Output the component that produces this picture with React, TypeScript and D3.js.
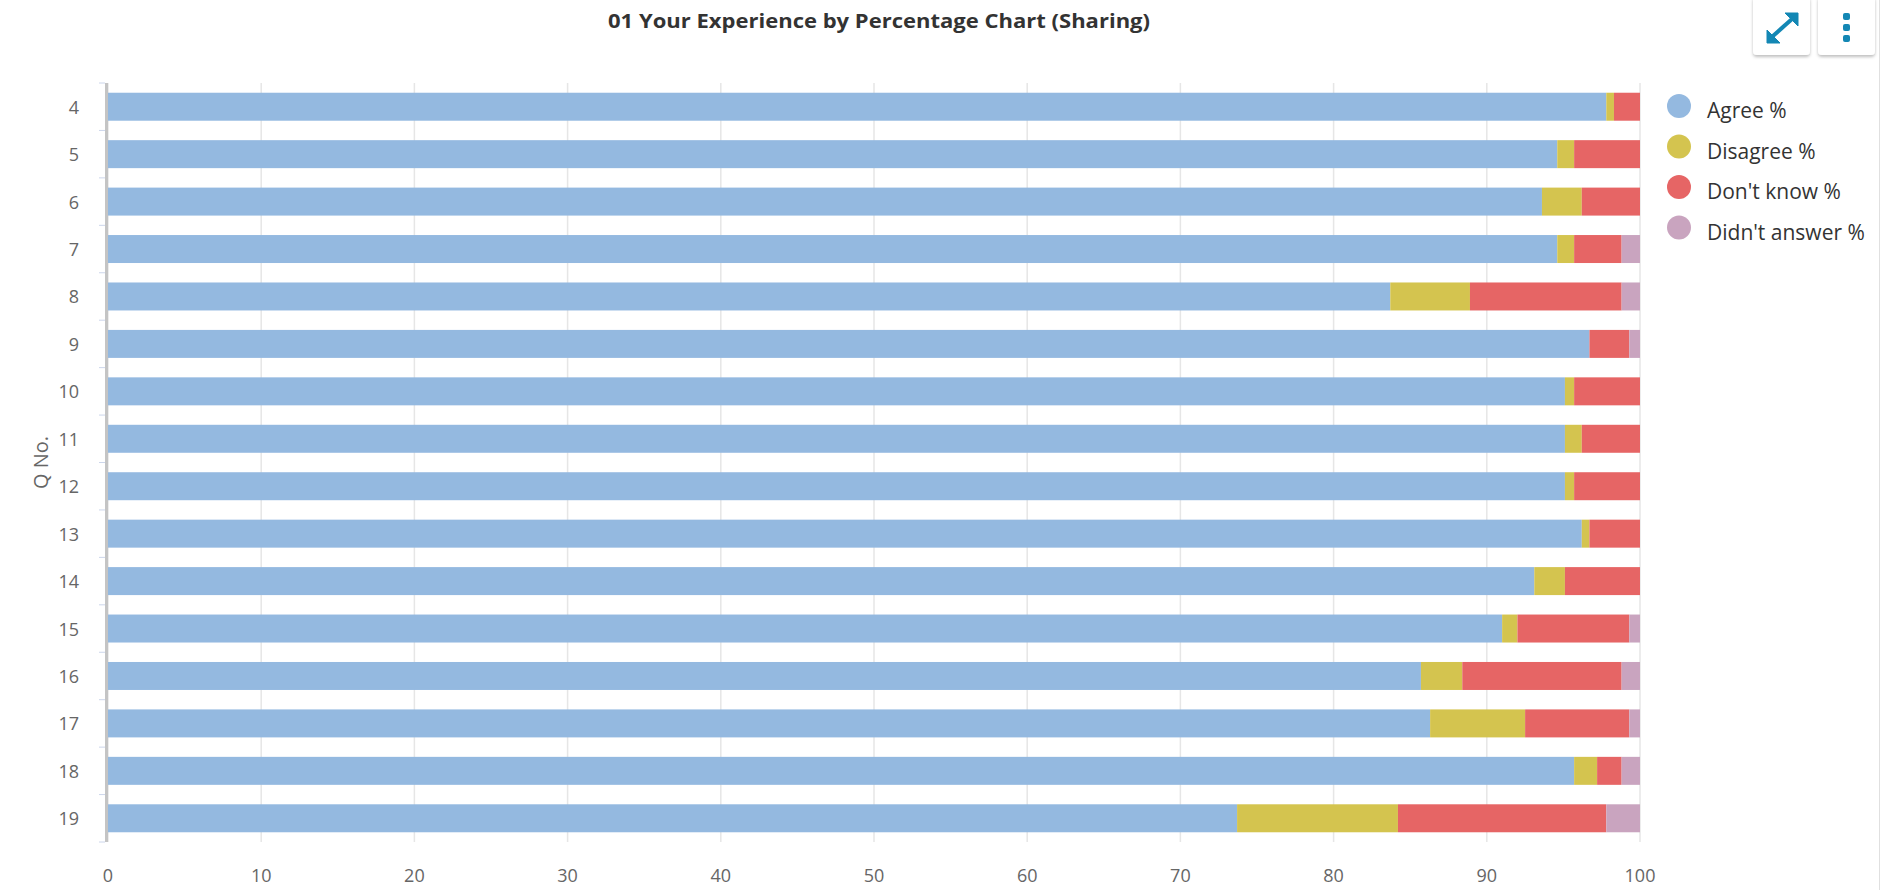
import { useMemo } from "react";
import * as d3 from "d3";

const QUESTIONS = ["4", "5", "6", "7", "8", "9", "10", "11", "12", "13", "14", "15", "16", "17", "18", "19"];
const SERIES = ["Agree %", "Disagree %", "Don't know %", "Didn't answer %"];
const COLORS = ["#94b9e0", "#d4c44f", "#e66565", "#c9a4bf"];

const AGREE = [97.8, 94.6, 93.6, 94.6, 83.7, 96.7, 95.1, 95.1, 95.1, 96.2, 93.1, 91.0, 85.7, 86.3, 95.7, 73.7];
const DISAGREE = [0.5, 1.1, 2.6, 1.1, 5.2, 0, 0.6, 1.1, 0.6, 0.5, 2.0, 1.0, 2.7, 6.2, 1.5, 10.5];
const DONT_KNOW = [1.7, 4.3, 3.8, 3.1, 9.9, 2.6, 4.3, 3.8, 4.3, 3.3, 4.9, 7.3, 10.4, 6.8, 1.6, 13.6];
const NO_ANSWER = [0, 0, 0, 1.2, 1.2, 0.7, 0, 0, 0, 0, 0, 0.7, 1.2, 0.7, 1.2, 2.2];

const X_TICKS = [0, 10, 20, 30, 40, 50, 60, 70, 80, 90, 100];

const W = 1881;
const H = 890;
const M = { left: 108, right: 1640, top: 83, bottom: 842 };
const FONT = "'Open Sans', 'Noto Sans', sans-serif";

export default function App() {
  const rows = useMemo(
    () =>
      QUESTIONS.map((q, i) => ({
        q,
        "Agree %": AGREE[i],
        "Disagree %": DISAGREE[i],
        "Don't know %": DONT_KNOW[i],
        "Didn't answer %": NO_ANSWER[i],
      })),
    []
  );

  const stacked = d3.stack<any>().keys(SERIES)(rows);

  const x = d3.scaleLinear().domain([0, 100]).range([M.left, M.right]);
  const y = d3
    .scaleBand<string>()
    .domain(QUESTIONS)
    .range([M.top, M.bottom])
    .paddingInner(0.41)
    .paddingOuter(0.205);
  const step = y.step();

  return (
    <svg
      width={W}
      height={H}
      style={{ position: "absolute", left: 0, top: 0, background: "#fff" }}
      fontFamily={FONT}
    >
      <defs>
        <filter id="btnShadow" x="-20%" y="-20%" width="140%" height="150%">
          <feDropShadow dx="0" dy="2" stdDeviation="1.5" floodColor="#000" floodOpacity="0.25" />
        </filter>
      </defs>

      {/* title */}
      <text
        x={879}
        y={28}
        textAnchor="middle"
        fontSize={20}
        fontWeight={700}
        fill="#333"
        textLength={542}
        lengthAdjust="spacingAndGlyphs"
      >
        01 Your Experience by Percentage Chart (Sharing)
      </text>

      {/* gridlines */}
      {X_TICKS.map((t) => (
        <line key={t} x1={x(t)} x2={x(t)} y1={M.top} y2={M.bottom} stroke="#e6e6e6" strokeWidth={1.5} />
      ))}

      {/* bars */}
      {stacked.map((s, si) => (
        <g key={s.key} fill={COLORS[si]}>
          {s.map((d, i) =>
            d[1] - d[0] > 0 ? (
              <rect
                key={i}
                x={x(d[0])}
                y={y(QUESTIONS[i])}
                width={x(d[1]) - x(d[0])}
                height={y.bandwidth()}
              />
            ) : null
          )}
        </g>
      ))}

      {/* y axis */}
      <line x1={M.left - 1.5} x2={M.left - 1.5} y1={M.top} y2={M.bottom} stroke="#c4c4c4" strokeWidth={3} />
      {d3.range(QUESTIONS.length + 1).map((i) => (
        <line
          key={i}
          x1={M.left - 9}
          x2={M.left - 3}
          y1={M.top + i * step}
          y2={M.top + i * step}
          stroke="#ccd6eb"
          strokeWidth={1}
        />
      ))}
      {QUESTIONS.map((q) => (
        <text
          key={q}
          x={79}
          y={(y(q) ?? 0) + y.bandwidth() / 2}
          textAnchor="end"
          dominantBaseline="central"
          fontSize={18}
          fill="#666"
        >
          {q}
        </text>
      ))}
      <text
        transform={`translate(40,${(M.top + M.bottom) / 2}) rotate(-90)`}
        textAnchor="middle"
        dominantBaseline="central"
        fontSize={20}
        fill="#666"
      >
        Q No.
      </text>

      {/* x axis labels */}
      {X_TICKS.map((t) => (
        <text key={t} x={x(t)} y={882} textAnchor="middle" fontSize={18} fill="#666">
          {t}
        </text>
      ))}

      {/* legend */}
      {SERIES.map((s, i) => (
        <g key={s} transform={`translate(1679,${106 + i * 40.5})`}>
          <circle r={12} fill={COLORS[i]} />
          <text x={28} y={12} fontSize={21} fill="#333">
            {s}
          </text>
        </g>
      ))}

      {/* toolbar buttons */}
      <g filter="url(#btnShadow)">
        <rect x={1753} y={-4} width={57} height={59} rx={4} fill="#fff" />
        <rect x={1818} y={-4} width={57} height={59} rx={4} fill="#fff" />
      </g>
      <g fill="#1387b4" stroke="#1387b4">
        <line x1={1773} y1={36} x2={1792} y2={19} strokeWidth={4} />
        <path d="M1767,43 L1767,30 L1780,43 Z" strokeWidth={1} strokeLinejoin="round" />
        <path d="M1798,13 L1798,26 L1785,13 Z" strokeWidth={1} strokeLinejoin="round" />
      </g>
      <g fill="#1387b4">
        <rect x={1843} y={13} width={7} height={7} rx={2} />
        <rect x={1843} y={24} width={7} height={7} rx={2} />
        <rect x={1843} y={35} width={7} height={7} rx={2} />
      </g>

      {/* panel edge */}
      <line x1={1879.5} x2={1879.5} y1={0} y2={H} stroke="#e0e0e0" strokeWidth={1} />
    </svg>
  );
}
